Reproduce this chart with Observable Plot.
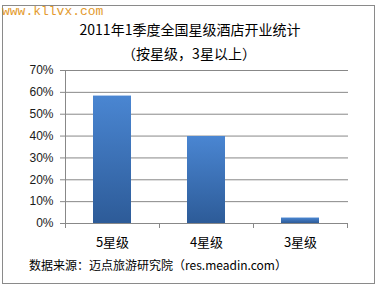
<!DOCTYPE html>
<html><head><meta charset="utf-8">
<script src="https://cdn.jsdelivr.net/npm/d3@7"></script>
<script src="https://cdn.jsdelivr.net/npm/@observablehq/plot@0.6"></script>
<style>
body{margin:0;background:#fff}
#wrap{position:relative;width:377px;height:288px;overflow:hidden;font-family:"Noto Sans CJK SC","Noto Sans",sans-serif;color:#000}
#frame{position:absolute;left:2px;top:5px;width:373px;height:279px;border:1px solid #8a8a8a;box-sizing:border-box}
#wm{position:absolute;left:2px;top:4px;font:13px/16px "Liberation Mono",monospace;color:#e39a2d;white-space:nowrap}
#title{position:absolute;left:0;width:380px;top:19px;text-align:center;font-size:14px;line-height:20px;white-space:nowrap}
#sub{position:absolute;left:0;width:378px;top:43px;text-align:center;font-size:14px;line-height:20px;white-space:nowrap}
#chart{position:absolute;left:0;top:0}
#cap{position:absolute;left:29px;top:257px;font-size:12px;line-height:16px;white-space:nowrap}
</style></head><body>
<div id="wrap">
 <div id="frame"></div>
 <div id="wm">www.kllvx.com</div>
 <div id="title">2011年1季度全国星级酒店开业统计</div>
 <div id="sub">（按星级，3星以上）</div>
 <div id="chart"></div>
 <div id="cap">数据来源：迈点旅游研究院（res.meadin.com）</div>
</div>
<script>
const categories = ["5星级", "4星级", "3星级"];
const shares = [58.3, 39.8, 2.5];
const yTicks = [0, 10, 20, 30, 40, 50, 60, 70];

const data = categories.map((c, i) => ({star: c, share: shares[i]}));
const fmt = d => d + "%";

const plot = Plot.plot({
  width: 377, height: 288,
  marginTop: 70, marginBottom: 65, marginLeft: 64, marginRight: 29,
  style: {background: "transparent", fontFamily: "'Liberation Sans', Arial, sans-serif", fontSize: "12px", color: "#000"},
  x: {domain: categories, paddingInner: 0.6, paddingOuter: 0.3, label: null},
  y: {domain: [0, 70], ticks: yTicks, label: null, tickFormat: fmt},
  marks: [
    Plot.gridY(yTicks, {stroke: "#888", strokeOpacity: 1}),
    Plot.barY(data, {x: "star", y: "share", fill: "url(#barGrad)"}),
    Plot.axisY(yTicks, {tickSize: 4, tickPadding: 7, tickFormat: fmt, stroke: "#888", fill: "#1a1a1a", fontSize: 12}),
    Plot.axisX({tickSize: 0, tickPadding: 14, fill: "#000", fontSize: 13, fontFamily: "'Noto Sans CJK SC', sans-serif"})
  ]
});

const svg = d3.select(plot);
const grad = svg.insert("defs", ":first-child").append("linearGradient")
  .attr("id", "barGrad").attr("x1", 0).attr("y1", 0).attr("x2", 0).attr("y2", 1);
grad.append("stop").attr("offset", "0%").attr("stop-color", "#4a86d2");
grad.append("stop").attr("offset", "100%").attr("stop-color", "#2d5b98");

const xs = plot.scale("x"), ys = plot.scale("y");
const gap = (xs.step - xs.bandwidth) / 2;
const bounds = categories.map(c => xs.apply(c) - gap);
bounds.push(xs.apply(categories[categories.length - 1]) + xs.bandwidth + gap);
const y0 = ys.apply(0), yTop = ys.apply(70);
const g = svg.append("g").attr("stroke", "#888").attr("shape-rendering", "crispEdges");
g.append("line").attr("x1", bounds[0]).attr("x2", bounds[0]).attr("y1", yTop).attr("y2", y0 + 4);
bounds.forEach(b => g.append("line").attr("x1", b).attr("x2", b).attr("y1", y0).attr("y2", y0 + 5));

document.getElementById("chart").appendChild(plot);
</script>
</body></html>
